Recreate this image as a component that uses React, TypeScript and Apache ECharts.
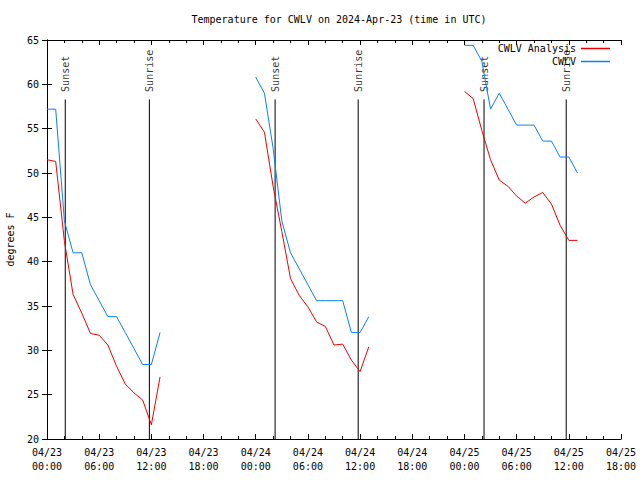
import React, { useEffect, useRef } from "react";
import * as echarts from "echarts";

// hours since 04/23 00:00 UTC
const day1Hours = [0, 1, 2, 3, 4, 5, 6, 7, 8, 9, 10, 11, 12, 13];
const day2Hours = [24, 25, 26, 27, 28, 29, 30, 31, 32, 33, 34, 35, 36, 37];
const day3Hours = [48, 49, 50, 51, 52, 53, 54, 55, 56, 57, 58, 59, 60, 61];

const analysisDay1 = [51.5, 51.3, 42.3, 36.3, 34.2, 31.9, 31.7, 30.6, 28.2, 26.2, 25.2, 24.4, 21.6, 27.0];
const analysisDay2 = [56.1, 54.6, 48.5, 43.4, 38.1, 36.2, 34.9, 33.2, 32.7, 30.6, 30.7, 28.9, 27.6, 30.4];
const analysisDay3 = [59.2, 58.4, 54.8, 51.5, 49.2, 48.5, 47.4, 46.6, 47.3, 47.8, 46.5, 44.1, 42.4, 42.4];

const obsDay1 = [57.2, 57.2, 44.6, 41.0, 41.0, 37.4, 35.6, 33.8, 33.8, 32.0, 30.2, 28.4, 28.4, 32.0];
const obsDay2 = [60.8, 59.0, 52.8, 44.6, 41.0, 39.2, 37.4, 35.6, 35.6, 35.6, 35.6, 32.0, 32.0, 33.8];
const obsDay3 = [64.4, 64.4, 62.6, 57.2, 59.0, 57.2, 55.4, 55.4, 55.4, 53.6, 53.6, 51.8, 51.8, 50.0];

const sunsetHours = [2.1, 26.23, 50.25];
const sunriseHours = [11.77, 35.78, 59.7];
const sunLineTop = 58.3;

const tickDates = ["04/23", "04/23", "04/23", "04/23", "04/24", "04/24", "04/24", "04/24", "04/25", "04/25", "04/25", "04/25"];
const tickTimes = ["00:00", "06:00", "12:00", "18:00", "00:00", "06:00", "12:00", "18:00", "00:00", "06:00", "12:00", "18:00"];

const FONT = "DejaVu Sans Mono";

function segments(hoursList: number[][], valuesList: number[][]) {
  const out: any[] = [];
  hoursList.forEach((hrs, i) => {
    if (i > 0) out.push([hrs[0] - 1, "-"]);
    hrs.forEach((h, j) => out.push([h, valuesList[i][j]]));
  });
  return out;
}

function vlines(hours: number[]) {
  const out: any[] = [];
  hours.forEach((h, i) => {
    if (i > 0) out.push([h - 1, "-"]);
    out.push([h, 20]);
    out.push([h, sunLineTop]);
  });
  return out;
}

export default function App() {
  const ref = useRef<HTMLDivElement>(null);
  useEffect(() => {
    if (!ref.current) return;
    const chart = echarts.init(ref.current, undefined, { renderer: "svg" });
    const axisCommon = {
      axisLine: { show: true, lineStyle: { color: "#000", width: 1 } },
      splitLine: { show: false },
    };
    const labelFor = (name: string) => ({
      show: true,
      formatter: name,
      position: "top",
      distance: 7,
      rotate: 90,
      align: "left",
      verticalAlign: "middle",
      color: "#000",
      fontFamily: FONT,
      fontSize: 10,
    });
    const legendCommon = {
      right: 30,
      align: "right",
      icon: "rect",
      itemWidth: 29,
      itemHeight: 1.5,
      padding: 0,
      textStyle: { fontFamily: FONT, fontSize: 10, color: "#000" },
    };
    chart.setOption({
      animation: false,
      backgroundColor: "#fff",
      textStyle: { fontFamily: FONT, fontSize: 10, color: "#000" },
      title: {
        text: "Temperature for CWLV on 2024-Apr-23 (time in UTC)",
        left: 334,
        textAlign: "center",
        top: 9,
        textStyle: { fontFamily: FONT, fontSize: 10, fontWeight: "normal", color: "#000" },
      },
      legend: [
        { ...legendCommon, data: ["CWLV Analysis"], top: 43.5 },
        { ...legendCommon, data: ["CWLV"], top: 56.5 },
      ],
      grid: { left: 47, right: 19, top: 40, bottom: 41, containLabel: false, outerBoundsMode: "none" },
      xAxis: [
        {
          type: "value",
          min: 0,
          max: 66,
          interval: 6,
          ...axisCommon,
          axisTick: { show: true, inside: true, length: 5, lineStyle: { color: "#000" } },
          minorTick: { show: true, splitNumber: 3, length: 3, lineStyle: { color: "#000" } },
          axisLabel: {
            margin: 6,
            lineHeight: 14,
            fontFamily: FONT,
            fontSize: 10,
            color: "#000",
            showMinLabel: true,
            showMaxLabel: true,
            hideOverlap: false,
            formatter: (v: number) => {
              const i = Math.round(v / 6);
              return tickDates[i] + "\n" + tickTimes[i];
            },
          },
        },
        {
          type: "value",
          position: "top",
          min: 0,
          max: 66,
          interval: 6,
          ...axisCommon,
          axisTick: { show: true, inside: true, length: 5, lineStyle: { color: "#000" } },
          minorTick: { show: true, splitNumber: 3, length: 3, lineStyle: { color: "#000" } },
          axisLabel: { show: false },
        },
      ],
      yAxis: [
        {
          type: "value",
          min: 20,
          max: 65,
          interval: 5,
          name: "degrees F",
          nameLocation: "middle",
          nameGap: 32,
          nameTextStyle: { fontFamily: FONT, fontSize: 10, color: "#000" },
          ...axisCommon,
          axisTick: { show: true, inside: true, length: 5, lineStyle: { color: "#000" } },
          axisLabel: { margin: 8, fontFamily: FONT, fontSize: 10, color: "#000" },
        },
        {
          type: "value",
          position: "right",
          min: 20,
          max: 65,
          interval: 5,
          ...axisCommon,
          axisTick: { show: true, inside: true, length: 5, lineStyle: { color: "#000" } },
          axisLabel: { show: false },
        },
      ],
      series: [
        {
          name: "CWLV Analysis",
          type: "line",
          symbol: "none",
          connectNulls: false,
          color: "#ee0000",
          lineStyle: { width: 1, color: "#ee0000" },
          data: segments([day1Hours, day2Hours, day3Hours], [analysisDay1, analysisDay2, analysisDay3]),
          z: 3,
        },
        {
          name: "CWLV",
          type: "line",
          symbol: "none",
          connectNulls: false,
          color: "#0a80f5",
          lineStyle: { width: 1, color: "#0a80f5" },
          data: segments([day1Hours, day2Hours, day3Hours], [obsDay1, obsDay2, obsDay3]),
          z: 3,
        },
        {
          name: "sunset",
          type: "line",
          symbol: "none",
          connectNulls: false,
          lineStyle: { width: 1, color: "#000" },
          data: vlines(sunsetHours),
          z: 2,
        },
        {
          name: "sunrise",
          type: "line",
          symbol: "none",
          connectNulls: false,
          lineStyle: { width: 1, color: "#000" },
          data: vlines(sunriseHours),
          z: 2,
        },
        {
          name: "sunsetLabel",
          type: "scatter",
          symbolSize: 1,
          itemStyle: { color: "rgba(0,0,0,0)" },
          label: labelFor("Sunset"),
          data: sunsetHours.map((h) => [h, sunLineTop]),
          z: 2,
        },
        {
          name: "sunriseLabel",
          type: "scatter",
          symbolSize: 1,
          itemStyle: { color: "rgba(0,0,0,0)" },
          label: labelFor("Sunrise"),
          data: sunriseHours.map((h) => [h, sunLineTop]),
          z: 2,
        },
      ],
    });
    return () => chart.dispose();
  }, []);
  return <div ref={ref} style={{ width: 640, height: 480, position: "absolute", left: 0, top: 0 }} />;
}
